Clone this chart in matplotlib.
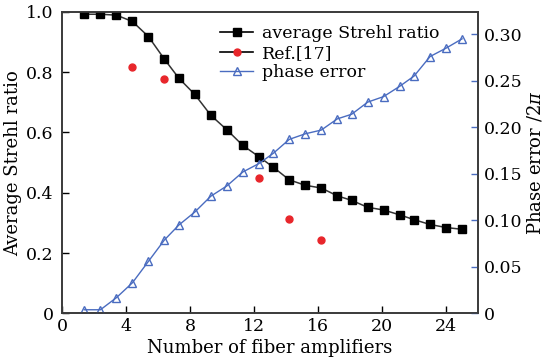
import matplotlib
matplotlib.use("Agg")
import matplotlib.pyplot as plt
from matplotlib.lines import Line2D

plt.rcParams['font.family'] = ['DejaVu Serif']
plt.rcParams['mathtext.fontset'] = 'dejavuserif'

# data
n_amp = [1.4, 2.4, 3.4, 4.4, 5.4, 6.4, 7.3, 8.3, 9.3, 10.3, 11.3, 12.3, 13.2,
         14.2, 15.2, 16.2, 17.2, 18.1, 19.1, 20.1, 21.1, 22.0, 23.0, 24.0, 25.0]
strehl = [0.992, 0.992, 0.989, 0.968, 0.918, 0.843, 0.780, 0.726, 0.657, 0.609,
          0.557, 0.520, 0.485, 0.443, 0.425, 0.416, 0.390, 0.375, 0.352, 0.343,
          0.327, 0.311, 0.295, 0.285, 0.279]
phase_err = [0.004, 0.004, 0.017, 0.033, 0.056, 0.079, 0.095, 0.109, 0.126, 0.137,
             0.152, 0.161, 0.172, 0.187, 0.193, 0.197, 0.209, 0.214, 0.227, 0.233,
             0.244, 0.255, 0.276, 0.285, 0.295]
ref_x = [4.4, 6.4, 12.3, 14.2, 16.2]
ref_y = [0.816, 0.778, 0.448, 0.313, 0.244]

x_ticks = [0, 4, 8, 12, 16, 20, 24]
left_ticks = [0, 0.2, 0.4, 0.6, 0.8, 1.0]
left_labels = ['0', '0.2', '0.4', '0.6', '0.8', '1.0']
right_ticks = [0, 0.05, 0.10, 0.15, 0.20, 0.25, 0.30]
right_labels = ['0', '0.05', '0.10', '0.15', '0.20', '0.25', '0.30']

red = '#e8262b'
blue = '#4a6cc0'
dark = '#333333'

fig = plt.figure(figsize=(5.46, 3.63), dpi=100)
ax = fig.add_axes([0.1136, 0.1364, 0.762, 0.831])
ax2 = ax.twinx()

ax.plot(n_amp, strehl, '-', color=dark, lw=1.1, marker='s', ms=5.3,
        mfc='black', mec='black', zorder=3)
ax.plot(ref_x, ref_y, 'o', ls='none', color=red, ms=5, zorder=3)
ax2.plot(n_amp, phase_err, '-', color=blue, lw=1.0, marker='^', ms=6,
         mfc='none', mec=blue, mew=1.0)

ax.set_xlim(0, 26)
ax.set_ylim(0, 1.0)
ax2.set_ylim(0, 0.324)

ax.set_xticks(x_ticks)
ax.set_yticks(left_ticks)
ax.set_yticklabels(left_labels)
ax2.set_yticks(right_ticks)
ax2.set_yticklabels(right_labels)

fs = 13
tfs = 12.5
for a in (ax, ax2):
    a.tick_params(direction='in', labelsize=tfs, length=5, width=1)
    for s in a.spines.values():
        s.set_color('#3a3a3a')
        s.set_linewidth(1.2)
ax.tick_params(axis='x', pad=3)
ax.tick_params(axis='y', pad=6)
ax2.tick_params(axis='y', color=blue, pad=4)

ax.set_xlabel('Number of fiber amplifiers', fontsize=fs, labelpad=3)
ax.set_ylabel('Average Strehl ratio', fontsize=fs, labelpad=3)
ax2.set_ylabel(r'Phase error /2$\pi$', fontsize=fs, labelpad=2)

handles = [
    Line2D([], [], color='black', lw=1.2, marker='s', ms=5.3, mfc='black', mec='black'),
    Line2D([], [], color='black', lw=1.2, marker='o', ms=5, mfc=red, mec=red),
    Line2D([], [], color=blue, lw=1.0, marker='^', ms=6, mfc='none', mec=blue),
]
labels = ['average Strehl ratio', 'Ref.[17]', 'phase error']
ax.legend(handles, labels, loc='upper left', bbox_to_anchor=(0.355, 0.99),
          frameon=False, fontsize=tfs, handlelength=1.9, handletextpad=0.5,
          labelspacing=0.15, borderaxespad=0.2)

fig.savefig('out.png', dpi=100)
